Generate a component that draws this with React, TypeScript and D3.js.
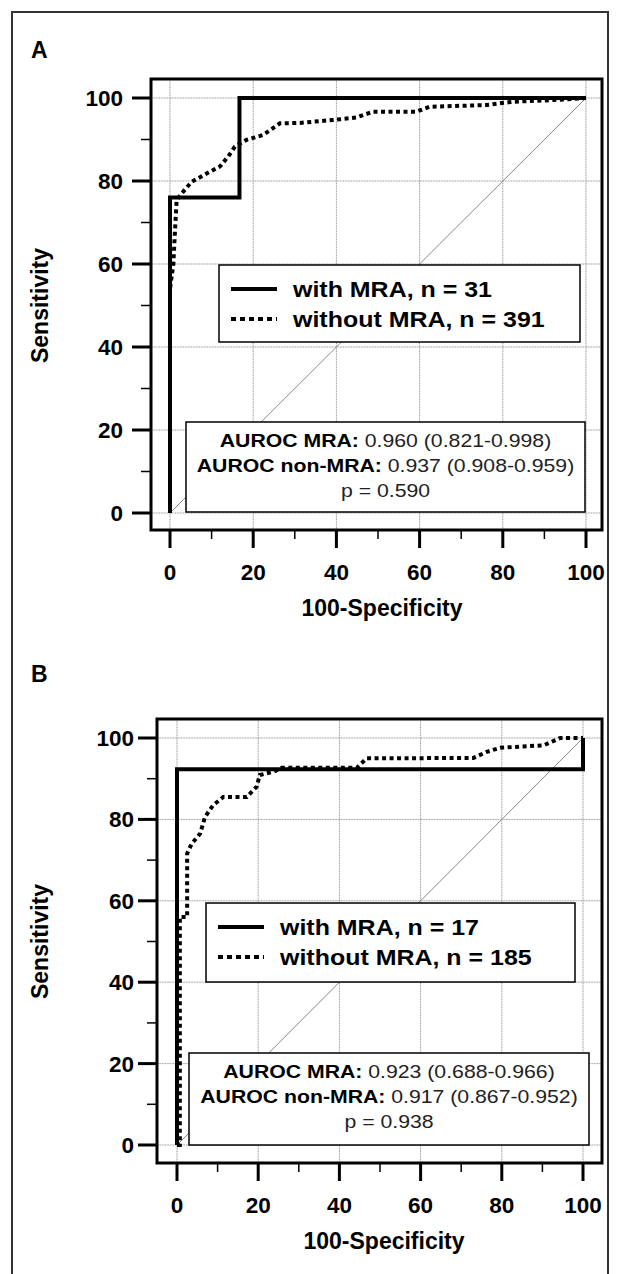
import React from "react";
import * as d3 from "d3";

// panel A: ROC curves (100-specificity, sensitivity)
const fprA_mra = [0, 0, 16.7, 16.7, 100];
const sensA_mra = [0, 76, 76, 100, 100];
const fprA_non = [0, 0, 0.8, 1.2, 1.6, 2.8, 5.2, 8.8, 12, 14, 15.6, 18.4, 22.4, 26.4, 31.2, 39.2, 44.8, 48.8, 59.2, 62.4, 76, 82.4, 92, 100];
const sensA_non = [0, 54, 60, 68, 75.4, 77, 79.8, 81.8, 83.5, 85.9, 88.3, 89.9, 91.1, 93.9, 94, 94.7, 95.3, 96.7, 96.7, 97.9, 98.3, 99.1, 99.5, 100];

// panel B
const fprB_mra = [0, 0, 100, 100];
const sensB_mra = [0, 92.3, 92.3, 100];
const fprB_non = [0, 0.7, 0.7, 2.5, 2.5, 3.6, 5.7, 6.9, 8.9, 11.4, 17.2, 19.6, 20.4, 23.7, 25.8, 44.3, 46.7, 73, 76.3, 79.6, 90.3, 94.4, 100];
const sensB_non = [0, 0, 56, 56, 71.6, 74, 76.5, 80.6, 83.5, 85.5, 85.5, 88, 90.9, 91.7, 92.7, 92.7, 95, 95.1, 96.6, 97.6, 98.2, 100, 100];

const majorTicks = [0, 20, 40, 60, 80, 100];
const minorTicks = [10, 30, 50, 70, 90];

const legendA = ["with MRA, n = 31", "without MRA, n = 391"];
const legendB = ["with MRA, n = 17", "without MRA, n = 185"];
const aurocA = [
  ["AUROC MRA:", " 0.960 (0.821-0.998)"],
  ["AUROC non-MRA:", " 0.937 (0.908-0.959)"],
  ["", "p = 0.590"],
];
const aurocB = [
  ["AUROC MRA:", " 0.923 (0.688-0.966)"],
  ["AUROC non-MRA:", " 0.917 (0.867-0.952)"],
  ["", "p = 0.938"],
];

const FONT = "'Liberation Sans', Arial, sans-serif";

function Panel({ label, labelY, x0, x1, y0, y1, frame, yLabelGap, solid, dotted, legend, legendBox, auroc, aurocBox }) {
  const x = d3.scaleLinear().domain([0, 100]).range([x0, x1]);
  const y = d3.scaleLinear().domain([0, 100]).range([y0, y1]);
  const path = (xs, ys) =>
    d3.line<number>().x((d) => x(d)).y((d, i) => y(ys[i]))(xs);
  const [fl, ft, fr, fb] = frame;
  const midX = x(50) + 4;
  const acx = (aurocBox[0] + aurocBox[2]) / 2;
  return (
    <g fontFamily={FONT}>
      <text x={31} y={labelY} fontSize={23} fontWeight="bold">{label}</text>
      {/* grid */}
      {majorTicks.map((t) => (
        <g key={"g" + t} stroke="#999" strokeWidth={1} strokeDasharray="1 0.6">
          <line x1={x(t)} x2={x(t)} y1={ft} y2={fb} />
          <line x1={fl} x2={fr} y1={y(t)} y2={y(t)} />
        </g>
      ))}
      <line x1={x(0)} y1={y(0)} x2={x(100)} y2={y(100)} stroke="#888" strokeWidth={1} />
      {/* frame */}
      <rect x={fl} y={ft} width={fr - fl} height={fb - ft} fill="none" stroke="#000" strokeWidth={3} />
      {/* y axis ticks */}
      {majorTicks.map((t) => (
        <g key={"y" + t}>
          <line x1={fl - 19} x2={fl} y1={y(t)} y2={y(t)} stroke="#000" strokeWidth={3} />
          <text x={fl - yLabelGap} y={y(t) + 8} textAnchor="end" fontSize={22.5} fontWeight="bold">{t}</text>
        </g>
      ))}
      {minorTicks.map((t) => (
        <line key={"ym" + t} x1={fl - 10} x2={fl} y1={y(t)} y2={y(t)} stroke="#000" strokeWidth={1.5} />
      ))}
      {/* x axis ticks */}
      {majorTicks.map((t) => (
        <g key={"x" + t}>
          <line x1={x(t)} x2={x(t)} y1={fb} y2={fb + 18} stroke="#000" strokeWidth={3} />
          <text x={x(t)} y={fb + 50} textAnchor="middle" fontSize={22.5} fontWeight="bold">{t}</text>
        </g>
      ))}
      {minorTicks.map((t) => (
        <line key={"xm" + t} x1={x(t)} x2={x(t)} y1={fb} y2={fb + 9} stroke="#000" strokeWidth={1.5} />
      ))}
      <text x={midX} y={fb + 86} textAnchor="middle" fontSize={23} fontWeight="bold">100-Specificity</text>
      <text transform={`translate(48,${y(50)}) rotate(-90)`} textAnchor="middle" fontSize={23} fontWeight="bold">Sensitivity</text>
      {/* legend */}
      <rect x={legendBox[0]} y={legendBox[1]} width={legendBox[2] - legendBox[0]} height={legendBox[3] - legendBox[1]} fill="#fff" stroke="#000" strokeWidth={1.5} />
      <line x1={legendBox[0] + 12} x2={legendBox[0] + 58} y1={legendBox[1] + 24} y2={legendBox[1] + 24} stroke="#000" strokeWidth={4} />
      <line x1={legendBox[0] + 12} x2={legendBox[0] + 58} y1={legendBox[1] + 54} y2={legendBox[1] + 54} stroke="#000" strokeWidth={4} strokeDasharray="5 4" />
      {legend.map((s, i) => (
        <text key={"l" + i} transform={`translate(${legendBox[0] + 74},${legendBox[1] + 32 + i * 30}) scale(1.11,1)`} fontSize={22.5} fontWeight="bold">{s}</text>
      ))}
      {/* auroc box */}
      <rect x={aurocBox[0]} y={aurocBox[1]} width={aurocBox[2] - aurocBox[0]} height={aurocBox[3] - aurocBox[1]} fill="#fff" stroke="#000" strokeWidth={1.5} />
      {auroc.map((r, i) => (
        <text key={"a" + i} transform={`translate(${acx},${aurocBox[1] + 25 + i * 25}) scale(1.18,1)`} textAnchor="middle" fontSize={18}>
          <tspan fontWeight="bold">{r[0]}</tspan>
          <tspan fill="#222">{r[1]}</tspan>
        </text>
      ))}
      {/* curves */}
      <path d={path(dotted[0], dotted[1])} fill="none" stroke="#000" strokeWidth={4} strokeDasharray="4 3.5" />
      <path d={path(solid[0], solid[1])} fill="none" stroke="#000" strokeWidth={4} />
    </g>
  );
}

export default function App() {
  return (
    <div style={{ position: "absolute", left: 0, top: 0 }}>
      <svg width={618} height={1274} style={{ display: "block", background: "#fff" }}>
        <rect x={12} y={12} width={596} height={1280} fill="none" stroke="#333" strokeWidth={2} />
        <Panel
          label="A" labelY={58}
          x0={170} x1={586} y0={513} y1={98}
          frame={[151, 79, 602, 530]} yLabelGap={28}
          solid={[fprA_mra, sensA_mra]}
          dotted={[fprA_non, sensA_non]}
          legend={legendA} legendBox={[219, 265, 580, 342]}
          auroc={aurocA} aurocBox={[186, 422, 585, 512]}
        />
        <Panel
          label="B" labelY={682}
          x0={177} x1={583} y0={1145} y1={738}
          frame={[157, 719, 602, 1163]} yLabelGap={23}
          solid={[fprB_mra, sensB_mra]}
          dotted={[fprB_non, sensB_non]}
          legend={legendB} legendBox={[206, 903, 575, 982]}
          auroc={aurocB} aurocBox={[189, 1053, 589, 1145]}
        />
      </svg>
    </div>
  );
}
